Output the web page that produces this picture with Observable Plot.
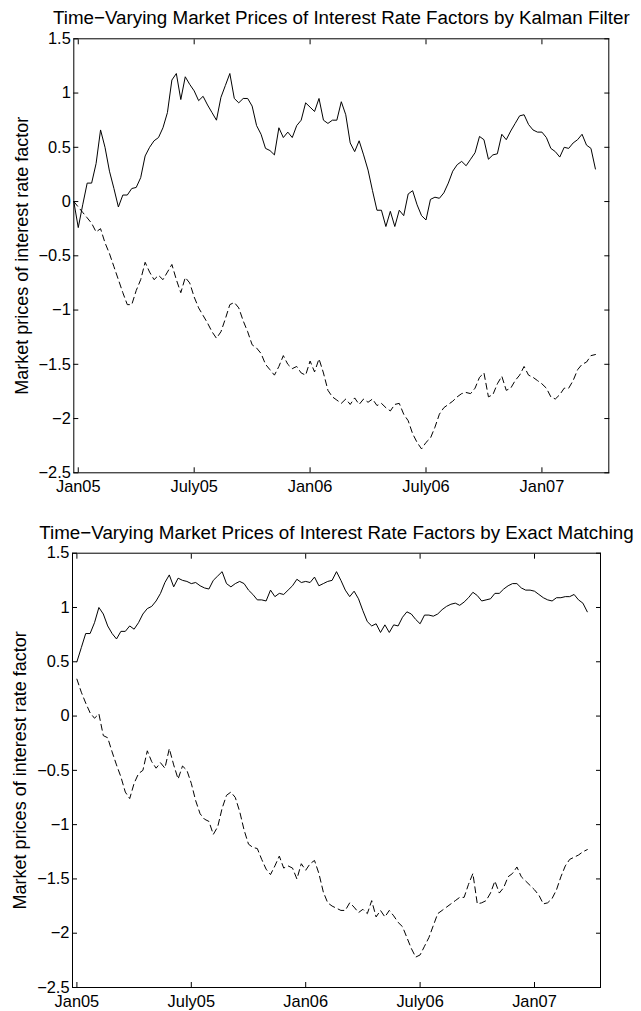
<!DOCTYPE html>
<html><head><meta charset="utf-8">
<script src="https://cdn.jsdelivr.net/npm/d3@7"></script>
<script src="https://cdn.jsdelivr.net/npm/@observablehq/plot@0.6"></script>
<style>
body{margin:0;background:#fff;}
#wrap{position:relative;width:641px;height:1011px;overflow:hidden;background:#fff;}
#wrap svg{position:absolute;left:0;}
</style></head><body><div id="wrap"></div>
<script>
// ---- tick labels ----
const tickWeeks = [1, 27, 53, 79, 105];
const tickLabels = ["Jan05", "July05", "Jan06", "July06", "Jan07"];
const yTicks = [-2.5, -2, -1.5, -1, -0.5, 0, 0.5, 1, 1.5];
const yTickLabels = ["\u22122.5", "\u22122", "\u22121.5", "\u22121", "\u22120.5", "0", "0.5", "1", "1.5"];
const titleKalman = "Time\u2212Varying Market Prices of Interest Rate Factors by Kalman Filter";
const titleExact = "Time\u2212Varying Market Prices of Interest Rate Factors by Exact Matching";
const yLabel = "Market prices of interest rate factor";

// ---- Kalman filter series (weekly, first week index = kalmanStart) ----
const kalmanStart = 0;
const kalmanFactor1 = [0.00,-0.24,-0.03,0.17,0.17,0.35,0.66,0.50,0.28,0.12,
-0.05,0.06,0.06,0.12,0.13,0.22,0.42,0.50,0.56,0.59,
0.68,0.82,1.12,1.18,0.94,1.15,1.08,1.02,0.93,0.97,
0.89,0.82,0.75,0.96,1.07,1.18,0.95,0.91,0.95,0.95,
0.88,0.70,0.62,0.49,0.47,0.43,0.68,0.59,0.64,0.59,
0.70,0.75,0.91,0.87,0.83,0.95,0.75,0.72,0.75,0.75,
0.92,0.80,0.54,0.46,0.56,0.43,0.29,0.10,-0.08,-0.08,
-0.23,-0.09,-0.23,-0.08,-0.13,0.07,0.10,-0.03,-0.13,-0.17,
0.02,0.04,0.03,0.08,0.17,0.28,0.34,0.37,0.33,0.39,
0.45,0.60,0.57,0.39,0.43,0.44,0.62,0.57,0.65,0.72,
0.79,0.80,0.71,0.66,0.64,0.64,0.59,0.49,0.46,0.41,
0.50,0.49,0.54,0.57,0.62,0.52,0.49,0.30];
const kalmanFactor2 = [0.00,-0.05,-0.10,-0.15,-0.20,-0.28,-0.25,-0.38,-0.48,-0.60,
-0.72,-0.84,-0.95,-0.95,-0.82,-0.72,-0.56,-0.65,-0.72,-0.68,
-0.72,-0.65,-0.58,-0.72,-0.84,-0.70,-0.75,-0.88,-0.98,-1.05,
-1.12,-1.20,-1.26,-1.20,-1.08,-0.95,-0.93,-0.98,-1.10,-1.20,
-1.32,-1.35,-1.40,-1.50,-1.55,-1.60,-1.52,-1.42,-1.50,-1.54,
-1.52,-1.58,-1.60,-1.47,-1.57,-1.45,-1.58,-1.74,-1.80,-1.83,
-1.86,-1.82,-1.87,-1.81,-1.87,-1.82,-1.85,-1.82,-1.88,-1.86,
-1.90,-1.93,-1.87,-1.86,-1.96,-2.02,-2.14,-2.22,-2.28,-2.22,
-2.18,-2.08,-1.96,-1.90,-1.87,-1.84,-1.80,-1.77,-1.76,-1.77,
-1.72,-1.62,-1.58,-1.80,-1.78,-1.68,-1.61,-1.74,-1.72,-1.65,
-1.60,-1.52,-1.60,-1.62,-1.65,-1.68,-1.72,-1.80,-1.82,-1.78,
-1.72,-1.72,-1.65,-1.55,-1.50,-1.48,-1.42,-1.41];

// ---- Exact matching series ----
const exactStart = 1;
const exactFactor1 = [0.50,0.63,0.76,0.76,0.86,1.00,0.94,0.83,0.76,0.71,
0.78,0.78,0.83,0.80,0.86,0.94,0.99,1.01,1.06,1.13,
1.23,1.30,1.19,1.27,1.25,1.24,1.22,1.23,1.20,1.18,
1.17,1.25,1.29,1.33,1.22,1.19,1.22,1.24,1.22,1.16,
1.12,1.07,1.07,1.06,1.16,1.10,1.13,1.12,1.16,1.20,
1.26,1.23,1.24,1.23,1.28,1.20,1.22,1.24,1.25,1.33,
1.25,1.16,1.10,1.15,1.08,0.97,0.87,0.83,0.85,0.77,
0.84,0.77,0.84,0.83,0.91,0.96,0.94,0.89,0.85,0.93,
0.93,0.92,0.94,0.98,1.01,1.03,1.04,1.02,1.05,1.09,
1.14,1.11,1.06,1.07,1.08,1.13,1.13,1.17,1.20,1.22,
1.22,1.18,1.16,1.16,1.15,1.12,1.09,1.07,1.06,1.09,
1.09,1.10,1.10,1.12,1.07,1.04,0.96];
const exactFactor2 = [0.34,0.22,0.12,0.03,-0.02,0.02,-0.18,-0.20,-0.33,-0.45,
-0.56,-0.70,-0.76,-0.62,-0.53,-0.50,-0.32,-0.42,-0.48,-0.43,
-0.48,-0.30,-0.45,-0.58,-0.46,-0.50,-0.62,-0.78,-0.90,-0.95,
-0.97,-1.09,-1.02,-0.85,-0.73,-0.70,-0.75,-0.88,-1.05,-1.18,
-1.21,-1.22,-1.32,-1.41,-1.46,-1.38,-1.29,-1.40,-1.38,-1.40,
-1.50,-1.36,-1.42,-1.36,-1.33,-1.45,-1.62,-1.72,-1.75,-1.77,
-1.79,-1.79,-1.72,-1.76,-1.81,-1.78,-1.82,-1.70,-1.85,-1.79,
-1.85,-1.79,-1.84,-1.90,-1.94,-2.04,-2.14,-2.22,-2.20,-2.12,
-2.04,-1.93,-1.82,-1.79,-1.76,-1.73,-1.70,-1.67,-1.67,-1.55,
-1.45,-1.73,-1.72,-1.70,-1.63,-1.52,-1.63,-1.58,-1.48,-1.45,
-1.39,-1.48,-1.52,-1.56,-1.60,-1.65,-1.73,-1.72,-1.68,-1.60,
-1.48,-1.38,-1.32,-1.30,-1.28,-1.25,-1.23];

const FONT = "'Liberation Sans', Arial, Helvetica, sans-serif";

function panel({f1, f2, start, title, height, ml, mr, mt, mb}) {
  const rows1 = f1.map((v, k) => ({week: start + k, value: v}));
  const rows2 = f2.map((v, k) => ({week: start + k, value: v}));
  const xfmt = d => tickLabels[tickWeeks.indexOf(d)];
  const yfmt = d => yTickLabels[yTicks.indexOf(d)];
  return Plot.plot({
    width: 641, height,
    marginLeft: ml, marginRight: mr, marginTop: mt, marginBottom: mb,
    x: {domain: [0, 120], label: null},
    y: {domain: [-2.5, 1.5], label: null},
    style: {fontFamily: FONT, fontSize: "16.4px", color: "#000", background: "#fff", overflow: "visible"},
    marks: [
      Plot.line(rows1, {x: "week", y: "value", stroke: "#000", strokeWidth: 1}),
      Plot.line(rows2, {x: "week", y: "value", stroke: "#000", strokeWidth: 1, strokeDasharray: "6,4"}),
      // inward ticks on all four sides
      Plot.axisX({anchor: "bottom", ticks: tickWeeks, tickSize: 5, dy: -5, text: null, label: null}),
      Plot.axisX({anchor: "top", ticks: tickWeeks, tickSize: 5, dy: 5, text: null, label: null}),
      Plot.axisY({anchor: "left", ticks: yTicks, tickSize: 5, dx: 5, text: null, label: null}),
      Plot.axisY({anchor: "right", ticks: yTicks, tickSize: 5, dx: -5, text: null, label: null}),
      // tick labels
      Plot.axisX({anchor: "bottom", ticks: tickWeeks, tickSize: 0, tickPadding: 8, tickFormat: xfmt, label: null, fontSize: 16.4}),
      Plot.axisY({anchor: "left", ticks: yTicks, tickSize: 0, tickPadding: 3, tickFormat: yfmt, label: null, fontSize: 16.4}),
      Plot.frame({stroke: "#000", strokeWidth: 1}),
      Plot.text([title], {frameAnchor: "top", lineAnchor: "middle", dy: -20.5, fontSize: 18.8, fill: "#000"}),
      Plot.text([yLabel], {frameAnchor: "left", textAnchor: "middle", lineAnchor: "middle", rotate: -90, dx: -52, fontSize: 18, fill: "#000"})
    ]
  });
}

const wrap = document.getElementById("wrap");
const top1 = panel({f1: kalmanFactor1, f2: kalmanFactor2, start: kalmanStart, title: titleKalman,
  height: 505, ml: 73.3, mr: 32.7, mt: 38.3, mb: 32.7});
top1.style.top = "0px";
wrap.appendChild(top1);
const bot = panel({f1: exactFactor1, f2: exactFactor2, start: exactStart, title: titleExact,
  height: 506, ml: 72, mr: 41, mt: 47.7, mb: 24});
bot.style.top = "505px";
wrap.appendChild(bot);
</script></body></html>
